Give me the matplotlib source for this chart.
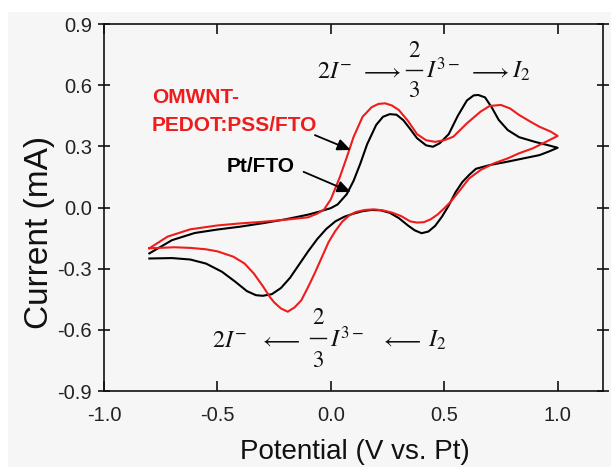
import matplotlib
matplotlib.use("Agg")
import matplotlib.pyplot as plt
from matplotlib.lines import Line2D
from matplotlib.patches import Rectangle

plt.rcParams['font.family'] = ['Liberation Sans', 'DejaVu Sans']
plt.rcParams['axes.unicode_minus'] = False
plt.rcParams['mathtext.fontset'] = 'stix'

# Pt/FTO (black) : anodic sweep then cathodic sweep
pt_fwd_x = [-0.80, -0.70, -0.60, -0.50, -0.40, -0.30, -0.20, -0.10, -0.05, 0.00, 0.03, 0.07, 0.10, 0.13, 0.16, 0.20, 0.23, 0.26, 0.29, 0.32, 0.35, 0.38, 0.42, 0.45, 0.48, 0.52, 0.56, 0.60, 0.63, 0.65, 0.68, 0.71, 0.74, 0.78, 0.83, 0.90, 0.96, 1.00]
pt_fwd_y = [-0.225, -0.160, -0.125, -0.108, -0.094, -0.077, -0.058, -0.035, -0.020, -0.003, 0.015, 0.065, 0.130, 0.215, 0.310, 0.405, 0.445, 0.458, 0.455, 0.428, 0.385, 0.340, 0.305, 0.298, 0.315, 0.360, 0.450, 0.525, 0.550, 0.552, 0.540, 0.490, 0.430, 0.380, 0.345, 0.322, 0.305, 0.293]
pt_rev_x = [1.00, 0.96, 0.92, 0.85, 0.78, 0.70, 0.64, 0.61, 0.58, 0.55, 0.52, 0.49, 0.46, 0.43, 0.40, 0.37, 0.34, 0.30, 0.26, 0.22, 0.18, 0.14, 0.10, 0.06, 0.02, -0.02, -0.06, -0.10, -0.14, -0.18, -0.22, -0.26, -0.30, -0.33, -0.37, -0.42, -0.48, -0.55, -0.62, -0.70, -0.80]
pt_rev_y = [0.293, 0.274, 0.257, 0.241, 0.225, 0.208, 0.190, 0.160, 0.125, 0.075, 0.010, -0.045, -0.090, -0.118, -0.126, -0.112, -0.088, -0.052, -0.026, -0.014, -0.012, -0.018, -0.030, -0.045, -0.068, -0.105, -0.155, -0.215, -0.280, -0.345, -0.395, -0.425, -0.433, -0.430, -0.410, -0.365, -0.315, -0.275, -0.255, -0.248, -0.250]

# OMWNT-PEDOT:PSS/FTO (red)
om_fwd_x = [-0.80, -0.72, -0.62, -0.50, -0.40, -0.30, -0.20, -0.10, -0.06, -0.03, 0.00, 0.02, 0.04, 0.07, 0.10, 0.14, 0.18, 0.21, 0.24, 0.27, 0.30, 0.34, 0.38, 0.42, 0.46, 0.50, 0.54, 0.60, 0.66, 0.70, 0.75, 0.79, 0.83, 0.88, 0.92, 0.97, 1.00]
om_fwd_y = [-0.200, -0.143, -0.107, -0.088, -0.078, -0.070, -0.060, -0.048, -0.030, -0.010, 0.040, 0.095, 0.150, 0.245, 0.345, 0.445, 0.492, 0.508, 0.511, 0.500, 0.478, 0.425, 0.360, 0.330, 0.322, 0.330, 0.347, 0.413, 0.470, 0.498, 0.503, 0.486, 0.454, 0.421, 0.396, 0.372, 0.351]
om_rev_x = [1.00, 0.95, 0.89, 0.83, 0.78, 0.72, 0.66, 0.61, 0.57, 0.53, 0.50, 0.47, 0.44, 0.41, 0.38, 0.35, 0.31, 0.27, 0.23, 0.19, 0.15, 0.11, 0.08, 0.05, 0.02, -0.01, -0.04, -0.07, -0.10, -0.13, -0.16, -0.19, -0.22, -0.25, -0.27, -0.30, -0.34, -0.38, -0.43, -0.50, -0.55, -0.62, -0.69, -0.80]
om_rev_y = [0.351, 0.323, 0.290, 0.266, 0.241, 0.217, 0.184, 0.143, 0.086, 0.030, -0.004, -0.035, -0.058, -0.072, -0.074, -0.068, -0.042, -0.025, -0.014, -0.009, -0.012, -0.022, -0.040, -0.070, -0.115, -0.170, -0.245, -0.320, -0.390, -0.455, -0.490, -0.511, -0.495, -0.465, -0.437, -0.385, -0.323, -0.275, -0.241, -0.215, -0.205, -0.198, -0.195, -0.200]

x_ticks = [-1.0, -0.5, 0.0, 0.5, 1.0]
y_ticks = [-0.9, -0.6, -0.3, 0.0, 0.3, 0.6, 0.9]
x_ticklabels = ["-1.0", "-0.5", "0.0", "0.5", "1.0"]
y_ticklabels = ["-0.9", "-0.6", "-0.3", "0.0", "0.3", "0.6", "0.9"]

W, H = 611, 467
def P(px, py):
    return px / W, 1 - py / H

bg = '#f6f6f6'
red = '#ee1c1c'
ink = '#111111'
fig = plt.figure(figsize=(6.11, 4.67), dpi=100, facecolor=bg)
fig.patches.append(Rectangle((0, 1 - 12 / H), 1, 12 / H, transform=fig.transFigure, facecolor='white', edgecolor='none', zorder=-10))
fig.patches.append(Rectangle((0, 0), 8 / W, 1, transform=fig.transFigure, facecolor='white', edgecolor='none', zorder=-10))

ax = fig.add_axes([0.1702, 0.1627, 0.8167, 0.7859], facecolor=bg)

ax.plot(pt_fwd_x + pt_rev_x, pt_fwd_y + pt_rev_y, color='black', lw=1.5, solid_joinstyle='round')
ax.plot(om_fwd_x + om_rev_x, om_fwd_y + om_rev_y, color=red, lw=1.5, solid_joinstyle='round')

ax.set_xlim(-1.0, 1.2)
ax.set_ylim(-0.9, 0.9)
ax.set_xticks(x_ticks)
ax.set_xticklabels(x_ticklabels)
ax.set_yticks(y_ticks)
ax.set_yticklabels(y_ticklabels)
for s in ax.spines.values():
    s.set_linewidth(1.2)
    s.set_color(ink)
ax.tick_params(axis='both', labelsize=14.5, labelcolor='#222222', color=ink, width=1.2)
ax.tick_params(axis='x', direction='in', length=7, pad=11, top=True)
ax.tick_params(axis='y', direction='inout', length=9, pad=4, right=True)

fig.text(*P(40, 232), 'Current (mA)', rotation=90, ha='center', va='center', fontsize=24, color=ink)
fig.text(*P(355, 459), 'Potential (V vs. Pt)', ha='center', va='baseline', fontsize=20, color=ink)

ax.text(-0.788, 0.512, 'OMWNT-', color=red, fontsize=15, fontweight='bold', ha='left', va='baseline')
ax.text(-0.788, 0.375, 'PEDOT:PSS/FTO', color=red, fontsize=15, fontweight='bold', ha='left', va='baseline')
ax.text(-0.459, 0.174, 'Pt/FTO', color='black', fontsize=15, fontweight='bold', ha='left', va='baseline')

ax.annotate('', xy=(0.088, 0.282), xytext=(-0.070, 0.355),
            arrowprops=dict(arrowstyle='-|>,head_length=0.8,head_width=0.35', color='black', lw=1.3, shrinkA=0, shrinkB=0))
ax.annotate('', xy=(0.088, 0.076), xytext=(-0.120, 0.175),
            arrowprops=dict(arrowstyle='-|>,head_length=0.8,head_width=0.35', color='black', lw=1.3, shrinkA=0, shrinkB=0))

# reaction equations, composed piece by piece (pixel positions from reference)
fs = 17.5
fs_frac = 16.5
fs_arrow = 17
def equation(x_left, base, x_arr1, x_frac, x_mid, x_arr2, x_end, num_base, den_base, bar_y, arrow):
    fig.text(*P(x_left, base), r'$2I^{-}$', fontsize=fs, ha='left', va='baseline', color=ink)
    fig.text(*P(x_arr1, base), arrow, fontsize=fs_arrow, ha='center', va='baseline', color=ink)
    fig.text(*P(x_frac, num_base), r'$\mathrm{2}$', fontsize=fs_frac, ha='center', va='baseline', color=ink)
    fig.text(*P(x_frac, den_base), r'$\mathrm{3}$', fontsize=fs_frac, ha='center', va='baseline', color=ink)
    fig.add_artist(Line2D([(x_frac - 8) / W, (x_frac + 8) / W], [1 - bar_y / H] * 2, color=ink, lw=1.0, transform=fig.transFigure))
    fig.text(*P(x_mid, base), r'$I^{3-}$', fontsize=fs, ha='left', va='baseline', color=ink)
    fig.text(*P(x_arr2, base), arrow, fontsize=fs_arrow, ha='center', va='baseline', color=ink)
    fig.text(*P(x_end, base), r'$I_2$', fontsize=fs, ha='left', va='baseline', color=ink)

equation(317, 78, 381, 414, 426, 489, 512, 57, 97, 70, r'$\longrightarrow$')
equation(212, 347, 280, 318, 330, 401, 428, 324, 367, 338, r'$\longleftarrow$')

fig.savefig('out.png', dpi=100, facecolor=bg)
